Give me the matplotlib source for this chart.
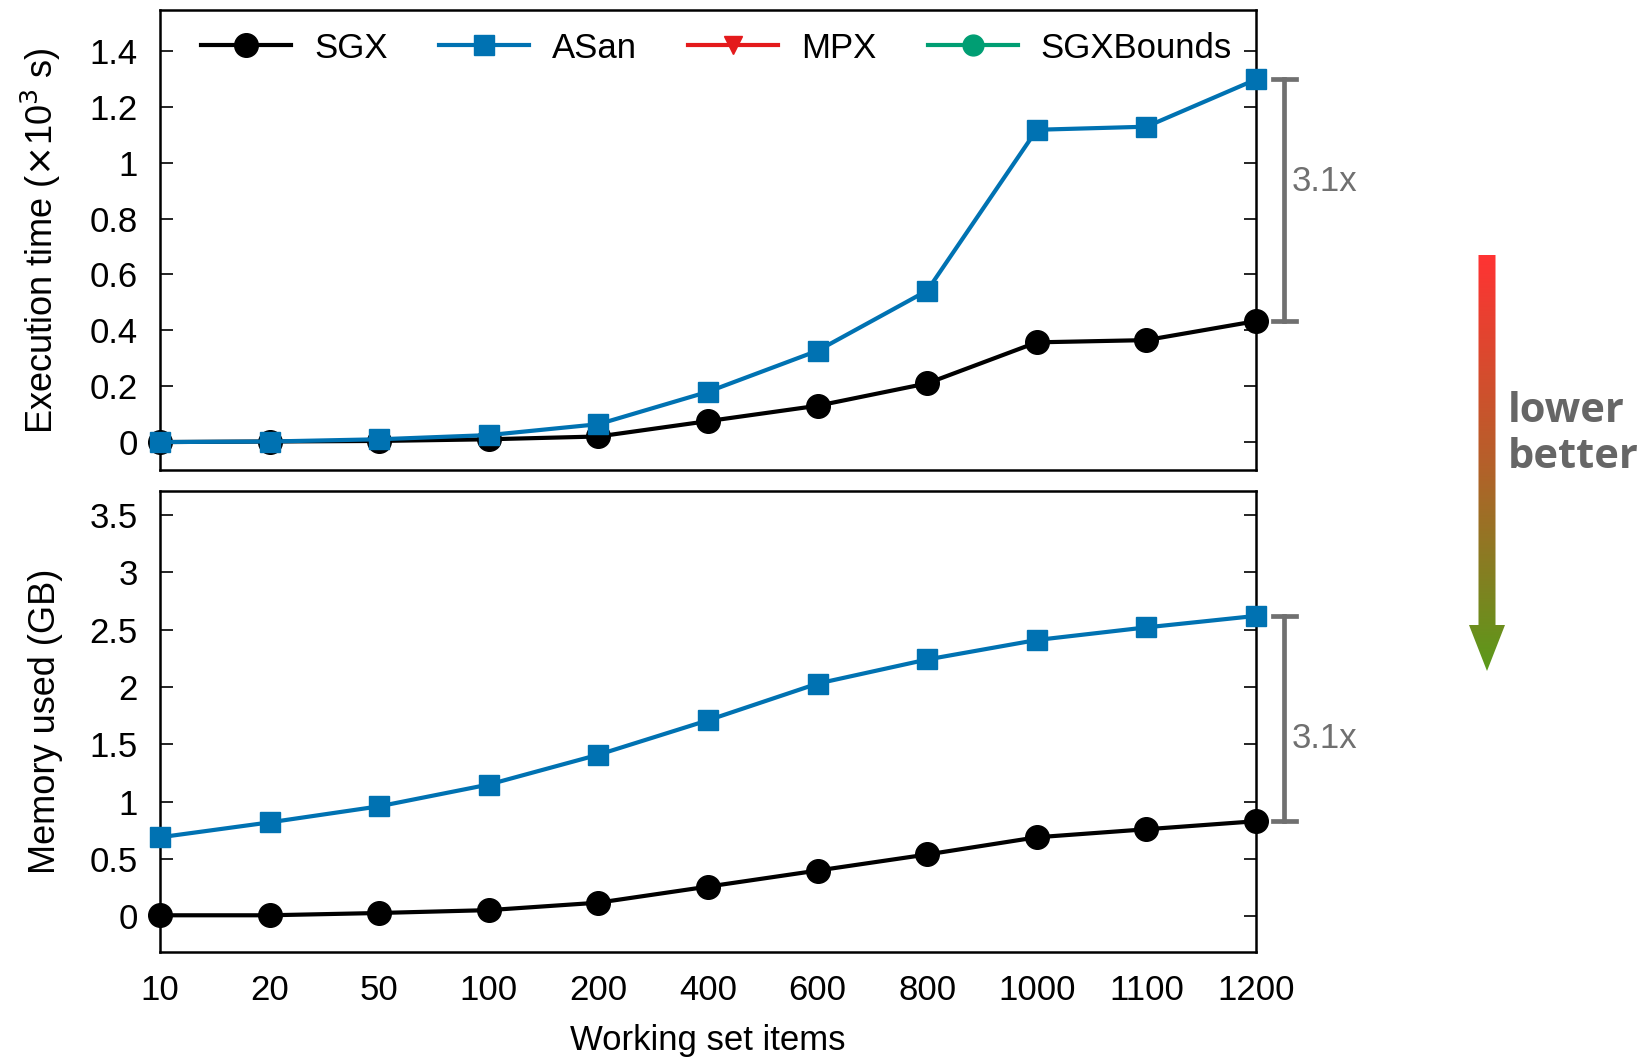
import numpy as np
import matplotlib
matplotlib.use("Agg")
import matplotlib.pyplot as plt
from matplotlib.colors import LinearSegmentedColormap
from matplotlib.path import Path
from matplotlib.patches import PathPatch

plt.rcParams['font.family'] = ['Liberation Sans', 'DejaVu Sans']

# data
items = ["10", "20", "50", "100", "200", "400", "600", "800", "1000", "1100", "1200"]
sgx_time = [0.0, 0.002, 0.004, 0.01, 0.02, 0.075, 0.13, 0.21, 0.357, 0.365, 0.433]
asan_time = [0.0, 0.002, 0.01, 0.025, 0.064, 0.18, 0.327, 0.542, 1.118, 1.129, 1.298]
sgx_mem = [0.01, 0.01, 0.03, 0.055, 0.12, 0.26, 0.40, 0.54, 0.69, 0.76, 0.83]
asan_mem = [0.69, 0.82, 0.96, 1.15, 1.41, 1.71, 2.03, 2.24, 2.41, 2.52, 2.62]
ratio_label = "3.1x"
ratio_label_y = [0.933, 1.55]  # where the "3.1x" sits in each panel

black = "#000000"
blue = "#0072b2"
red = "#e41a1c"
green = "#009e73"
grey = "#707070"
fs = 25

fig = plt.figure(figsize=(16.48, 10.6), dpi=100)
ax1 = fig.add_axes([0.0971, 0.5566, 0.665, 0.4335])
ax2 = fig.add_axes([0.0971, 0.1019, 0.665, 0.435])

x = np.arange(len(items))

for ax in (ax1, ax2):
    ax.set_xlim(0, len(items) - 1)
    ax.tick_params(axis='y', direction='in', length=9, width=1.2, right=True, labelsize=fs, pad=16)
    ax.tick_params(axis='x', length=0, labelsize=fs, pad=16)
    for s in ax.spines.values():
        s.set_linewidth(1.8)

# top: execution time
ax1.plot(x, sgx_time, color=black, lw=3, marker='o', ms=17, clip_on=False, zorder=3, label="SGX")
ax1.plot(x, asan_time, color=blue, lw=3, marker='s', ms=15, clip_on=False, zorder=4, label="ASan")
ax1.plot([], [], color=red, lw=3, marker='v', ms=13, label="MPX")
ax1.plot([], [], color=green, lw=3, marker='o', ms=15, label="SGXBounds")
ax1.set_ylim(-0.1, 1.545)
ax1.set_yticks(np.arange(0, 1.41, 0.2))
ax1.set_yticklabels(["0", "0.2", "0.4", "0.6", "0.8", "1", "1.2", "1.4"])
ax1.set_xticks(x)
ax1.set_xticklabels([])
ax1.set_ylabel(r"Execution time ($\times$10$^3$ s)", fontsize=26, labelpad=19)
ax1.legend(loc='upper left', ncol=4, frameon=False, fontsize=fs, handlelength=2.6,
           columnspacing=1.48, handletextpad=0.65, bbox_to_anchor=(0.009, 1.022))

# bottom: memory
ax2.plot(x, sgx_mem, color=black, lw=3, marker='o', ms=17, clip_on=False, zorder=3)
ax2.plot(x, asan_mem, color=blue, lw=3, marker='s', ms=15, clip_on=False, zorder=4)
ax2.set_ylim(-0.31, 3.71)
ax2.set_yticks(np.arange(0, 3.51, 0.5))
ax2.set_yticklabels(["0", "0.5", "1", "1.5", "2", "2.5", "3", "3.5"])
ax2.set_xticks(x)
ax2.set_xticklabels(items)
ax2.set_xlabel("Working set items", fontsize=fs, labelpad=12)
ax2.set_ylabel("Memory used (GB)", fontsize=26, labelpad=19)

# brackets with ratio
pairs = ((ax1, sgx_time[-1], asan_time[-1]), (ax2, sgx_mem[-1], asan_mem[-1]))
for (ax, lo, hi), ty in zip(pairs, ratio_label_y):
    tr = ax.get_yaxis_transform()
    ax.plot([1.026, 1.026], [lo, hi], color=grey, lw=3.4, transform=tr, clip_on=False)
    for v in (lo, hi):
        ax.plot([1.016, 1.037], [v, v], color=grey, lw=3.4, transform=tr, clip_on=False)
    ax.text(1.033, ty, ratio_label, color=grey, fontsize=fs, transform=tr, va='center', ha='left')

# gradient arrow "lower better"
ov = fig.add_axes([0, 0, 1, 1])
ov.set_xlim(0, 1648)
ov.set_ylim(1060, 0)
ov.axis('off')
cx = 1487
verts = [(cx - 8.5, 255), (cx + 8.5, 255), (cx + 8.5, 625), (cx + 18, 625), (cx, 671),
         (cx - 18, 625), (cx - 8.5, 625), (cx - 8.5, 255)]
path = Path(verts, [Path.MOVETO] + [Path.LINETO] * 6 + [Path.CLOSEPOLY])
patch = PathPatch(path, facecolor='none', edgecolor='none')
ov.add_patch(patch)
cmap = LinearSegmentedColormap.from_list("rg", ["#5a9a1a", "#b5602a", "#ff3333"])
grad = np.linspace(0, 1, 256).reshape(-1, 1)
im = ov.imshow(grad, cmap=cmap, aspect='auto', extent=(cx - 20, cx + 20, 671, 255), origin='lower')
im.set_clip_path(patch)
ov.text(1508, 412, "lower", color="#666666", fontsize=30, fontweight='bold', family='Open Sans',
        va='center', ha='left')
ov.text(1508, 458, "better", color="#666666", fontsize=30, fontweight='bold', family='Open Sans',
        va='center', ha='left')

fig.savefig("out.png", dpi=100)
